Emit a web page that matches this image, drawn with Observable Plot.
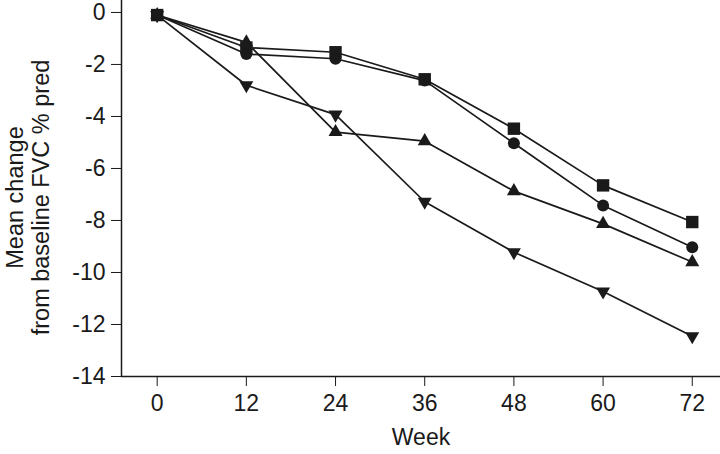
<!DOCTYPE html>
<html>
<head>
<meta charset="utf-8">
<script src="https://cdn.jsdelivr.net/npm/d3@7"></script>
<script src="https://cdn.jsdelivr.net/npm/@observablehq/plot@0.6"></script>
<style>
  html, body { margin: 0; padding: 0; background: #fff; }
</style>
</head>
<body>
<div id="chart"></div>
<script>
const weeks = [0, 12, 24, 36, 48, 60, 72];
const squareSeries   = [-0.1, -1.35, -1.53, -2.57, -4.47, -6.65, -8.06];
const circleSeries   = [-0.1, -1.60, -1.78, -2.62, -5.03, -7.42, -9.03];
const triUpSeries    = [-0.1, -1.15, -4.60, -4.95, -6.87, -8.13, -9.60];
const triDownSeries  = [-0.1, -2.80, -3.93, -7.28, -9.22, -10.73, -12.45];
const yTicks = [0, -2, -4, -6, -8, -10, -12, -14];
const xLabel = "Week";
const yLabel = "Mean change\nfrom baseline FVC % pred";

const toRows = (vals) => weeks.map((w, i) => ({week: w, value: vals[i]}));
const rowsSquare = toRows(squareSeries);
const rowsCircle = toRows(circleSeries);
const rowsTriUp = toRows(triUpSeries);
const rowsTriDown = toRows(triDownSeries);

const xDomain = [-4.8, 75.8];
const yDomain = [-14, 0.46];
const ink = "#1a1a1a";

const lineOpts = {x: "week", y: "value", stroke: ink, strokeWidth: 1.7};

const chart = Plot.plot({
  width: 720,
  height: 454,
  marginLeft: 121,
  marginRight: 0,
  marginTop: 0,
  marginBottom: 78,
  style: {fontSize: "23px", fontFamily: "'Liberation Sans', Arial, sans-serif", color: ink, background: "#fff"},
  x: {domain: xDomain, ticks: weeks, tickSize: 10, tickPadding: 8, label: null, tickFormat: d => String(d)},
  y: {domain: yDomain, ticks: yTicks, tickSize: 10, tickPadding: 6, label: null, tickFormat: d => String(d)},
  marks: [
    Plot.ruleY([yTicks[yTicks.length - 1]], {stroke: ink, strokeWidth: 1.5}),
    Plot.ruleX([xDomain[0]], {stroke: ink, strokeWidth: 1.5}),
    Plot.line(rowsTriUp, lineOpts),
    Plot.line(rowsSquare, lineOpts),
    Plot.line(rowsCircle, lineOpts),
    Plot.line(rowsTriDown, lineOpts),
    Plot.dot(rowsTriUp, {x: "week", y: "value", symbol: "triangle", r: 5.2, fill: ink, stroke: "none"}),
    Plot.dot(rowsSquare, {x: "week", y: "value", symbol: "square", r: 7, fill: ink, stroke: "none"}),
    Plot.dot(rowsCircle, {x: "week", y: "value", symbol: "circle", r: 6, fill: ink, stroke: "none"}),
    Plot.dot(rowsTriDown, {x: "week", y: "value", symbol: "triangle", rotate: 180, r: 5.2, fill: ink, stroke: "none"}),
    Plot.text([xLabel], {frameAnchor: "bottom", textAnchor: "middle", lineAnchor: "middle", dy: 61, fontSize: 23, fill: ink}),
    Plot.text([yLabel], {frameAnchor: "left", textAnchor: "middle", lineAnchor: "middle", rotate: -90, dx: -94, dy: 9, fontSize: 23.5, lineHeight: 1.1, fill: ink})
  ]
});
document.getElementById("chart").appendChild(chart);
</script>
</body>
</html>
